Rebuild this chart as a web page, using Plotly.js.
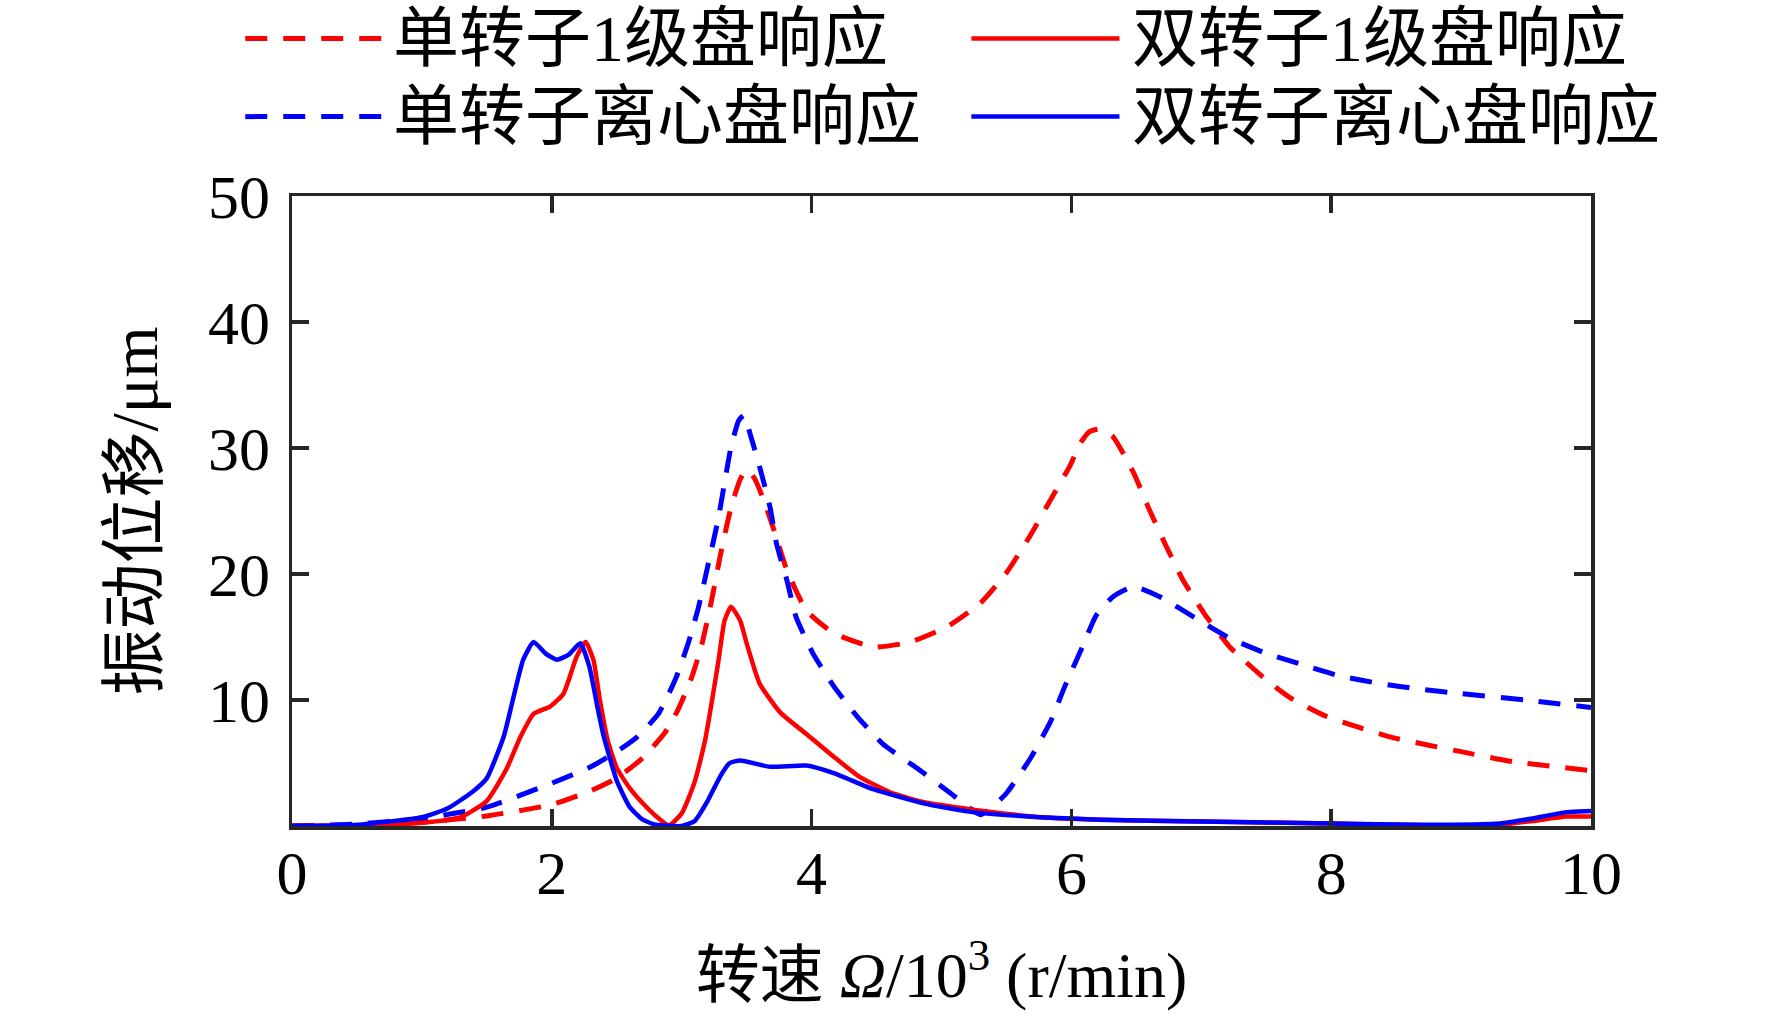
<!DOCTYPE html>
<html>
<head>
<meta charset="utf-8">
<script src="https://cdn.plot.ly/plotly-3.0.1.min.js"></script>
<style>
  html, body { margin: 0; padding: 0; background: #fff; }
  #chart { width: 1772px; height: 1018px; }
</style>
</head>
<body>
<div id="chart"></div>
<script>
"use strict";
// vibration response vs speed, single rotor vs dual rotor

// speed in 10^3 r/min, response in um
var speedSingleStage1 = [0, 0.5, 1.0, 1.5, 2.0, 2.3, 2.5, 2.7, 2.87, 2.97, 3.07, 3.15, 3.23, 3.30, 3.38, 3.45, 3.50, 3.56, 3.63, 3.71, 3.81, 3.96, 4.17, 4.48, 4.76, 5.04, 5.30, 5.50, 5.68, 5.84, 5.99, 6.07, 6.14, 6.22, 6.32, 6.48, 6.60, 6.73, 6.86, 7.02, 7.22, 7.50, 7.68, 7.94, 8.22, 8.48, 9.00, 9.40, 10.0];
var respSingleStage1 = [0, 0.05, 0.3, 0.8, 1.7, 2.8, 3.8, 5.4, 7.4, 9.2, 11.6, 14.2, 17.9, 21.6, 25.3, 27.5, 28.3, 27.6, 25.9, 23.5, 20.3, 17.1, 15.3, 14.2, 14.6, 15.8, 17.7, 20.1, 23.0, 25.9, 28.6, 30.4, 31.3, 31.5, 30.9, 28.0, 25.1, 22.2, 19.5, 16.9, 14.2, 11.6, 10.2, 8.8, 7.8, 7.0, 5.9, 5.1, 4.4];

var speedSingleCentri = [0, 0.5, 1.0, 1.5, 2.0, 2.3, 2.5, 2.66, 2.82, 2.95, 3.05, 3.13, 3.20, 3.28, 3.38, 3.44, 3.48, 3.53, 3.60, 3.68, 3.73, 3.81, 3.88, 4.01, 4.17, 4.35, 4.55, 4.81, 5.07, 5.22, 5.30, 5.38, 5.50, 5.68, 5.84, 5.95, 6.08, 6.19, 6.32, 6.48, 6.68, 6.94, 7.22, 7.50, 7.78, 8.07, 8.38, 8.65, 9.00, 9.50, 10.0];
var respSingleCentri = [0, 0.15, 0.6, 1.5, 3.4, 4.7, 5.9, 7.1, 8.9, 11.6, 14.5, 17.4, 20.6, 24.3, 30.1, 32.2, 32.6, 31.0, 28.5, 25.3, 22.4, 19.5, 16.6, 13.7, 11.1, 8.7, 6.5, 4.6, 2.6, 1.4, 0.9, 1.4, 2.6, 5.3, 8.3, 11.1, 14.1, 16.7, 18.2, 19.0, 18.2, 16.6, 14.9, 13.7, 12.8, 11.9, 11.3, 10.9, 10.5, 10.0, 9.4];

var speedDualStage1 = [0, 0.5, 1.0, 1.3, 1.5, 1.65, 1.76, 1.86, 1.99, 2.09, 2.19, 2.26, 2.32, 2.37, 2.43, 2.5, 2.6, 2.7, 2.8, 2.9, 3.0, 3.1, 3.18, 3.28, 3.33, 3.38, 3.45, 3.50, 3.60, 3.76, 3.96, 4.17, 4.37, 4.60, 4.86, 5.24, 5.76, 6.22, 7.0, 8.0, 8.7, 9.3, 9.55, 9.81, 10.0];
var respDualStage1 = [0, 0.05, 0.25, 0.7, 2.0, 4.5, 7.1, 8.9, 9.5, 10.5, 13.4, 14.6, 13.2, 10.0, 6.8, 4.6, 3.0, 1.8, 0.8, 0.05, 1.0, 3.5, 6.8, 12.9, 16.3, 17.4, 16.3, 14.5, 11.3, 9.0, 7.3, 5.5, 3.9, 2.7, 1.9, 1.3, 0.7, 0.5, 0.35, 0.2, 0.05, 0.1, 0.4, 0.75, 0.75];

var speedDualCentri = [0, 0.5, 1.0, 1.2, 1.4, 1.5, 1.63, 1.70, 1.78, 1.86, 1.95, 2.04, 2.13, 2.22, 2.29, 2.35, 2.40, 2.5, 2.6, 2.7, 2.8, 3.0, 3.1, 3.2, 3.3, 3.37, 3.45, 3.68, 3.96, 4.17, 4.48, 4.86, 5.24, 5.76, 6.22, 7.0, 8.0, 8.7, 9.3, 9.55, 9.81, 10.0];
var respDualCentri = [0, 0.1, 0.7, 1.4, 2.8, 3.8, 7.1, 10.0, 13.2, 14.6, 13.7, 13.2, 13.6, 14.5, 12.6, 9.5, 7.1, 3.6, 1.5, 0.5, 0.1, 0.0, 0.4, 2.0, 4.0, 5.0, 5.2, 4.7, 4.8, 4.2, 2.9, 1.8, 1.1, 0.7, 0.5, 0.35, 0.2, 0.1, 0.2, 0.6, 1.1, 1.2];

var seriesNames = ["单转子1级盘响应", "单转子离心盘响应", "双转子1级盘响应", "双转子离心盘响应"];
var seriesColors = ["#ff0000", "#0000ff", "#ff0000", "#0000ff"];
var seriesDash = ["22px,16px", "22px,16px", "solid", "solid"];
var seriesWidth = [5, 5, 4.5, 4.5];

var xTickVals = [0, 2, 4, 6, 8, 10];
var yTickVals = [10, 20, 30, 40, 50];

var FONT = "'Liberation Serif', 'Times New Roman', 'Noto Sans CJK SC', serif";
var AXIS_COLOR = "#262626";

var xs = [speedSingleStage1, speedSingleCentri, speedDualStage1, speedDualCentri];
var ys = [respSingleStage1, respSingleCentri, respDualStage1, respDualCentri];

var traces = xs.map(function(x, i){
	return {
		name: seriesNames[i],
		x: x,
		y: ys[i],
		type: 'scatter',
		mode: 'lines',
		line: {color: seriesColors[i], width: seriesWidth[i], dash: seriesDash[i], shape: 'spline', smoothing: 0.5},
		showlegend: false
	};
});

// hand made legend, 2 columns x 2 rows (plotly's legend line sample is too short)
var legendPos = [
	{x0: -0.036, x1: 0.079, tx: 0.076, y: 1.25},
	{x0: -0.036, x1: 0.079, tx: 0.076, y: 1.126},
	{x0: 0.523, x1: 0.637, tx: 0.645, y: 1.25},
	{x0: 0.523, x1: 0.637, tx: 0.645, y: 1.126}
];
var shapes = [], annotations = [];
legendPos.forEach(function(p, i){
	shapes.push({
		type: 'line', xref: 'paper', yref: 'paper',
		x0: p.x0, x1: p.x1, y0: p.y, y1: p.y,
		line: {color: seriesColors[i], width: seriesWidth[i], dash: seriesDash[i]}
	});
	annotations.push({
		xref: 'paper', yref: 'paper', x: p.tx, y: p.y,
		xanchor: 'left', yanchor: 'middle', showarrow: false,
		text: seriesNames[i],
		font: {family: FONT, size: 66, color: '#000'}
	});
});

var axisCommon = {
	showline: true, linewidth: 3.5, linecolor: AXIS_COLOR,
	mirror: 'ticks', ticks: 'inside', ticklen: 17, tickwidth: 3.5, tickcolor: AXIS_COLOR,
	showgrid: false, zeroline: false,
	tickfont: {family: FONT, size: 62, color: '#000'}
};

var layout = {
	width: 1772, height: 1018,
	margin: {l: 292, r: 181, t: 196, b: 192},
	paper_bgcolor: '#fff', plot_bgcolor: '#fff',
	xaxis: Object.assign({}, axisCommon, {
		range: [0, 10], tickvals: xTickVals, ticklabelstandoff: -10,
		title: {text: "转速 <i>Ω</i>/10<sup>3</sup> (r/min)", font: {family: FONT, size: 64, color: '#000'}, standoff: 47}
	}),
	yaxis: Object.assign({}, axisCommon, {
		range: [0, 50], tickvals: yTickVals, ticklabelstandoff: 6,
		title: {text: "振动位移/μm", font: {family: FONT, size: 66, color: '#000'}, standoff: 30}
	}),
	shapes: shapes,
	annotations: annotations,
	showlegend: false
};

Plotly.newPlot('chart', traces, layout, {displayModeBar: false, staticPlot: true});
</script>
</body>
</html>
